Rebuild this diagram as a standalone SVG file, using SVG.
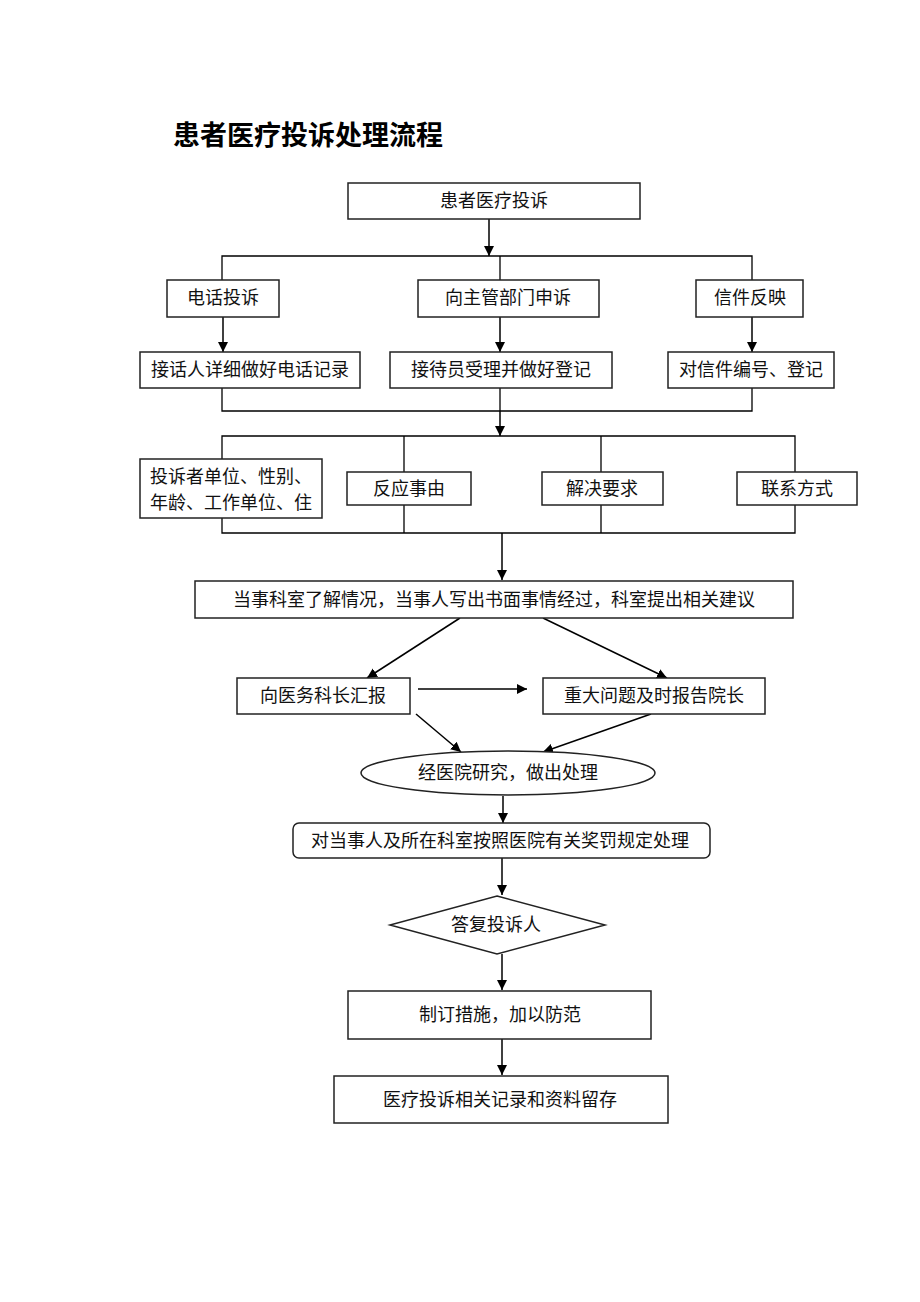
<svg xmlns="http://www.w3.org/2000/svg" width="920" height="1302" viewBox="0 0 920 1302">
<defs>
<marker id="ah" viewBox="0 0 10 10" refX="10" refY="5" markerWidth="10" markerHeight="10" markerUnits="userSpaceOnUse" orient="auto">
<path d="M0,0 L10,5 L0,10 z" fill="#000"/>
</marker>
</defs>
<style>
.b{fill:#fff;stroke:#222;stroke-width:1.5}
.t{font-family:"Liberation Serif","Noto Sans CJK SC",serif;font-size:18px;fill:#111;text-anchor:middle;dominant-baseline:central}
.l{fill:none;stroke:#000;stroke-width:1.3}
.a{fill:none;stroke:#000;stroke-width:1.5;marker-end:url(#ah)}
</style>
<rect width="920" height="1302" fill="#fff"/>
<text x="173" y="145" style="font-family:'Liberation Serif','Noto Sans CJK SC',serif;font-size:27px;font-weight:bold;fill:#000">患者医疗投诉处理流程</text>

<g id="connectors">
<line class="a" x1="489" y1="219" x2="489" y2="256"/>
<polyline class="l" points="222,280 222,256 752,256 752,280"/>
<line class="l" x1="500" y1="256" x2="500" y2="280"/>
<line class="a" x1="223" y1="317" x2="223" y2="352"/>
<line class="a" x1="500" y1="317" x2="500" y2="352"/>
<line class="a" x1="752" y1="317" x2="752" y2="352"/>
<polyline class="l" points="222,388 222,411 752,411 752,388"/>
<line class="l" x1="500" y1="388" x2="500" y2="411"/>
<line class="a" x1="500" y1="411" x2="500" y2="436"/>
<polyline class="l" points="222,459 222,436 795,436 795,472"/>
<line class="l" x1="404" y1="436" x2="404" y2="472"/>
<line class="l" x1="601" y1="436" x2="601" y2="472"/>
<polyline class="l" points="222,518 222,533 795,533 795,505"/>
<line class="l" x1="404" y1="505" x2="404" y2="533"/>
<line class="l" x1="601" y1="505" x2="601" y2="533"/>
<line class="a" x1="502" y1="533" x2="502" y2="580"/>
<line class="a" x1="460" y1="618" x2="367" y2="678"/>
<line class="a" x1="543" y1="618" x2="667" y2="678"/>
<line class="a" x1="418" y1="689" x2="527" y2="689"/>
<line class="a" x1="416" y1="714" x2="461" y2="752"/>
<line class="a" x1="651" y1="714" x2="543" y2="752"/>
<line class="a" x1="503" y1="796" x2="503" y2="823"/>
<line class="a" x1="502" y1="858" x2="502" y2="895"/>
<line class="a" x1="502" y1="954" x2="502" y2="990"/>
<line class="a" x1="502" y1="1039" x2="502" y2="1075"/>
</g>

<g id="n1"><rect class="b" x="348" y="183" width="292" height="36"/><text class="t" x="494" y="201">患者医疗投诉</text></g>
<g id="n2"><rect class="b" x="167" y="280" width="112" height="37"/><text class="t" x="223" y="298">电话投诉</text></g>
<g id="n3"><rect class="b" x="418" y="280" width="181" height="37"/><text class="t" x="508" y="298">向主管部门申诉</text></g>
<g id="n4"><rect class="b" x="696" y="280" width="107" height="37"/><text class="t" x="750" y="298">信件反映</text></g>
<g id="n5"><rect class="b" x="140" y="352" width="220" height="36"/><text class="t" x="250" y="370">接话人详细做好电话记录</text></g>
<g id="n6"><rect class="b" x="390" y="352" width="222" height="36"/><text class="t" x="501" y="370">接待员受理并做好登记</text></g>
<g id="n7"><rect class="b" x="668" y="352" width="166" height="36"/><text class="t" x="751" y="370">对信件编号、登记</text></g>
<g id="n8"><rect class="b" x="140" y="459" width="182" height="59"/><text class="t" x="231" y="477">投诉者单位、性别、</text><text class="t" x="231" y="503">年龄、工作单位、住</text></g>
<g id="n9"><rect class="b" x="347" y="472" width="124" height="33"/><text class="t" x="409" y="489">反应事由</text></g>
<g id="n10"><rect class="b" x="542" y="472" width="121" height="33"/><text class="t" x="602" y="489">解决要求</text></g>
<g id="n11"><rect class="b" x="737" y="472" width="120" height="33"/><text class="t" x="797" y="489">联系方式</text></g>
<g id="n12"><rect class="b" x="195" y="581" width="598" height="37"/><text class="t" x="494" y="600">当事科室了解情况，当事人写出书面事情经过，科室提出相关建议</text></g>
<g id="n13"><rect class="b" x="237" y="678" width="173" height="36"/><text class="t" x="323" y="696">向医务科长汇报</text></g>
<g id="n14"><rect class="b" x="543" y="678" width="222" height="36"/><text class="t" x="654" y="696">重大问题及时报告院长</text></g>
<g id="n15"><ellipse class="b" cx="508" cy="773" rx="147" ry="22"/><text class="t" x="508" y="773">经医院研究，做出处理</text></g>
<g id="n16"><rect class="b" x="293" y="823" width="417" height="35" rx="6"/><text class="t" x="500" y="841">对当事人及所在科室按照医院有关奖罚规定处理</text></g>
<g id="n17"><polygon class="b" points="497,896 605,925 497,954 390,925"/><text class="t" x="496" y="925">答复投诉人</text></g>
<g id="n18"><rect class="b" x="348" y="991" width="303" height="48"/><text class="t" x="500" y="1015">制订措施，加以防范</text></g>
<g id="n19"><rect class="b" x="334" y="1076" width="334" height="47"/><text class="t" x="500" y="1100">医疗投诉相关记录和资料留存</text></g>
</svg>
